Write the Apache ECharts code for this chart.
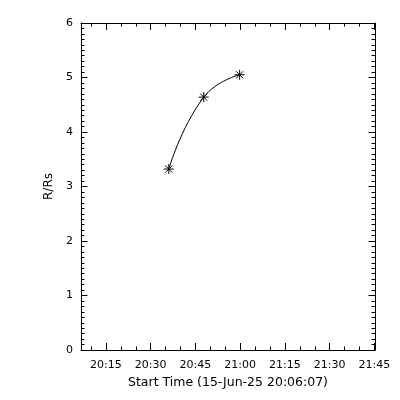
<!DOCTYPE html>
<html>
<head>
<meta charset="utf-8">
<script src="https://cdn.jsdelivr.net/npm/echarts@6/dist/echarts.min.js"></script>
<style>html,body{margin:0;padding:0;background:#fff}#c{width:400px;height:400px}</style>
</head>
<body>
<div id="c"></div>
<script>
// Time values are minutes after 20:00 (15-Jun-25)
var times = [36.07, 47.78, 59.82];
var values = [3.32, 4.64, 5.05];
var tickMinutes = [15, 30, 45, 60, 75, 90, 105];
var tickLabels = ['20:15', '20:30', '20:45', '21:00', '21:15', '21:30', '21:45'];
var minorMinutes = [10, 20, 25, 35, 40, 50, 55, 65, 70, 80, 85, 95, 100];
var xMin = 6.63, xMax = 105.2;
var yTicks = [0, 1, 2, 3, 4, 5, 6];
var xTitle = 'Start Time (15-Jun-25 20:06:07)';
var yTitle = 'R/Rs';

var font = 'DejaVu Sans';
var black = '#000';
function xAxisCfg(pos, vals, len, showLabel, showLine) {
  return {
    type: 'value', position: pos, min: xMin, max: xMax,
    axisLine: { show: showLine, onZero: false, lineStyle: { color: black, width: 1 } },
    axisTick: { show: true, inside: true, length: len, customValues: vals, lineStyle: { color: black, width: 1 } },
    axisLabel: {
      show: showLabel, customValues: vals, color: black, fontFamily: font, fontSize: 11, margin: 10,
      formatter: function (v) { var i = tickMinutes.indexOf(v); return i >= 0 ? tickLabels[i] : ''; }
    },
    splitLine: { show: false }
  };
}
var chart = echarts.init(document.getElementById('c'), null, { renderer: 'canvas' });
var xa = [
  xAxisCfg('bottom', tickMinutes, 7, true, true),
  xAxisCfg('bottom', minorMinutes, 3.5, false, false),
  xAxisCfg('top', tickMinutes, 7, false, true),
  xAxisCfg('top', minorMinutes, 3.5, false, false)
];
xa[0].name = xTitle;
xa[0].nameLocation = 'middle';
xa[0].nameGap = 26;
xa[0].nameTextStyle = { color: black, fontFamily: font, fontSize: 12.5 };

function yAxisCfg(pos, showLabel) {
  return {
    type: 'value', position: pos, min: yTicks[0], max: yTicks[yTicks.length - 1], interval: 1,
    axisLine: { show: true, onZero: false, lineStyle: { color: black, width: 1 } },
    axisTick: { show: true, inside: true, length: 6.5, lineStyle: { color: black, width: 1 } },
    minorTick: { show: true, splitNumber: 10, length: 3.5, lineStyle: { color: black, width: 1 } },
    axisLabel: { show: showLabel, color: black, fontFamily: font, fontSize: 11, margin: 8 },
    splitLine: { show: false }, minorSplitLine: { show: false }
  };
}
var ya = [yAxisCfg('left', true), yAxisCfg('right', false)];
ya[0].name = yTitle;
ya[0].nameLocation = 'middle';
ya[0].nameRotate = 90;
ya[0].nameGap = 25;
ya[0].nameTextStyle = { color: black, fontFamily: font, fontSize: 12 };

var pts = times.map(function (t, i) { return [t, values[i]]; });
chart.setOption({
  animation: false,
  backgroundColor: '#fff',
  grid: { left: 81, right: 25, top: 23, bottom: 50, containLabel: false },
  xAxis: xa,
  yAxis: ya,
  series: [{
    type: 'line', xAxisIndex: 0, yAxisIndex: 0, data: pts, smooth: 0.5,
    lineStyle: { color: black, width: 1 },
    symbol: 'path://M0,-1L0,1M-1,0L1,0M-0.7,-0.7L0.7,0.7M-0.7,0.7L0.7,-0.7',
    symbolSize: 10,
    itemStyle: { color: 'none', borderColor: black, borderWidth: 1 }
  }]
});
</script>
</body>
</html>
